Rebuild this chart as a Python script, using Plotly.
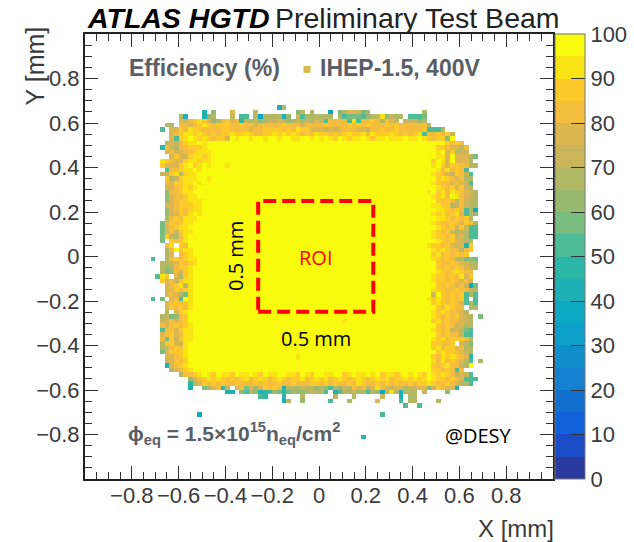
import plotly.graph_objects as go

# Efficiency bands (5 % bins, value = band centre-ish)
band_values = {"a": 98, "b": 93, "c": 88, "d": 83, "e": 78, "f": 73, "g": 68, "h": 63, "i": 58,
               "j": 53, "k": 48, "l": 43, "m": 38}
tick_values = [0, 10, 20, 30, 40, 50, 60, 70, 80, 90, 100]
axis_ticks = [-0.8, -0.6, -0.4, -0.2, 0, 0.2, 0.4, 0.6, 0.8]
axis_labels = ["\u22120.8", "\u22120.6", "\u22120.4", "\u22120.2", "0", "0.2", "0.4", "0.6", "0.8"]
minor_ticks = [-0.95, -0.9, -0.85, -0.75, -0.7, -0.65, -0.55, -0.5, -0.45, -0.35, -0.3, -0.25, -0.15, -0.1, -0.05,
               0.05, 0.1, 0.15, 0.25, 0.3, 0.35, 0.45, 0.5, 0.55, 0.65, 0.7, 0.75, 0.85, 0.9, 0.95]
band_colors = ["#2b3a9f", "#1a4cc8", "#1160dc", "#1470cf", "#1580cf", "#0f8fcb", "#0b9fc9", "#0ca8c4",
               "#1eb0b4", "#2ab7a8", "#4dbb96", "#78bc80", "#98ba6e", "#b2b863", "#cbb55a", "#deb650",
               "#f4bd3d", "#fdc92b", "#f9e315", "#f9fb0e"]

FIRST_COLUMN = 13
FIRST_ROW = 16
WIDTH = 72
# '.' = empty bin, '>' = solid full-efficiency core filled across to the right-hand part
rows = [
"............................lg",
"............l.h...e....f........if.g...m.igeeeih...........g",
".......gl...lhg...f.jj.gmgggglh.fjgggggg.gjiiijhgfbhfgg.jjji",
".......efdcbcehgdcedkfgfhgffefhgfgfgefjddddjbjddcdgdef.fffhg",
"....gg.ddedcbcdcccddcddedddddcdddeddddcddddcdcdcdddcdcddddddg",
"...j.eecdbccddddccddddeddccccdcdbcceeefefedddeefddcddcdddddcjjjg",
".....edcbbcbcdcdccbccbcddccbcbcbcdcdbccdcdcbccbdbcccbcdcdcbjddcdcf",
".....ejcbabcbcdcceabaabaabaabaabbaabababcabcbbabcbbabbbabbabcdccha",
"....gefdcbbaba>aaaacdcd....",
"...kdfgddcccbaa>aaccdeegd...",
"....edfeddcbbb>aabaecgff...",
".....ecefcbbcb>aabbeaeeegi.",
"...bcdeecbbcbb>acabeaeeeg..",
"...ceeecbacbabaaab>abaceccddgg.",
"....jddcbbab>aaabdbdcdj...",
"...ffcbgcbba>abcdefcdfj..",
"....cgfcbbbaab>aacbcdedgg..",
"....deccbbab>abcddedefj..",
"....eedcbcb>aabcdcecfg..",
"....hddcbba>bacbdbcdefg.",
"....heddcbb>abcbdabdefg.",
"....hedccbbb>aacdcdgdfgg.",
"....eedcccbb>abbccgfdfgg.",
"....hedcdcbb>aabbcdcdjgm.",
"....hfecdbab>abcbdcbejgh.",
"....gdcdbbb>aabbcdcdcg..",
"...iecdcbb>abcddcdecdg.",
"...iedcbba>aabcdcfcfjj.",
"...ifdfcbb>abcdcfgfgjj.",
"...icfgdb>abccdcfegjj.",
"...i.cdcb>aabcdcefgg..",
"....db.cd>bccdcefelc..",
"....gdacbb>abcbcddgdc..",
"....ge.dcb>acbdcdcdc...",
".j..gdcdcbb>abcdcdggihi.",
"...ggfecdcb>aacddcdeegg.",
"...ghgdccb>aacdcdcdefg.",
"...gihdfcb>aabcdcbcdd..",
"..jbc.egcb>abccdcdbec..",
"...cedfcbb>abccdcdedf..",
"....edcbgb>aacdcdedfmi.",
"....eecdcb>abccddcddfg.",
"....edegib>afacdcdcjgj.",
".j.i.edjab>abcbcdcdcj.j.",
"....edcdcb>acbcdcdejgj.",
"....ecdcdb>aacdbcdd.gg.",
"....g.ecb>abcbcddeg...",
"...gfihdc>abcdcdcefg.i",
"...fededc>acbdcddefg..",
"...dedcdcb>aacdcdfegg..",
"...jddecbb>abcdcfegij..",
"...edcedbb>aacdcddfjj..",
"...dicfcbb>abcbdcccdg..",
"...gccefb>accddc.egi..",
"...gfdcdb>acbdccedgg..",
"...iecccba>aacbccdefg..",
"....eedcb>acdbcbcdek..",
"....fecdca>abdbdcdegj.g",
"....ledcb>acdcbddfga..",
".....gedcb>accdcdjd....",
".......gddcbabcabbcabbabcabbaabbcabcaabbaacbabbabacbbcbababcabcbcdfefj..",
".........hedcbcbcdcdcbdcbcdcbcdccbdcbcbdcbcdcbcdcbcbdccbcbcbabccdcdejjj.",
".........kgecdcdcddcdddcdcddcddcdddccdcdcddcdbcddcdcdcddcdccbcddcdeggj..",
".........l..igedkf.ediehecdcdlgghfgghghjghfgdedgebdefeegffeeifcdeel.....",
".................ll.hjghlkjhikighhgfggj.ljggfggjghmfbglggg.f....h.......",
"........................jk...k...g......g...g.....f...l.gg..............",
".............................lg..h.....j...g.....e....j.gg....g.........",
".......................................................j..j.............",
"",
"...........m......................................j.....................",
"",
"",
"",
"",
"..............................................k.........................",
]
# Isolated lower-efficiency bins inside the core (mm, mm, %)
spot_x = [0.11, -0.09]
spot_y = [-0.29, -0.45]
spot_v = [93, 93]

x_centers = [round(-0.99 + 0.02 * i, 2) for i in range(100)]
y_centers = [round(0.99 - 0.02 * j, 2) for j in range(100)]
z = [[None] * 100 for _ in range(100)]
for j, row in enumerate(rows):
    if ">" in row:
        left, right = row.split(">")
        row = left + "a" * (WIDTH - len(left) - len(right)) + right
    for c, ch in enumerate(row):
        if ch in band_values:
            z[FIRST_ROW + j][FIRST_COLUMN + c] = band_values[ch]
for sx, sy, sv in zip(spot_x, spot_y, spot_v):
    z[y_centers.index(sy)][x_centers.index(sx)] = sv

scale = []
for k, col in enumerate(band_colors):
    scale += [[k / 20, col], [(k + 1) / 20, col]]

L, R, T, B = 85, 553, 33.5, 479.5
def px(v):
    return (v - L) / (R - L)
def py(v):
    return (B - v) / (B - T)

fig = go.Figure(go.Heatmap(
    x=x_centers, y=y_centers, z=z, zmin=0, zmax=100, colorscale=scale, hoverongaps=False,
    colorbar=dict(x=1.0043, xanchor="left", xpad=0, ypad=0, thickness=30, len=1, y=0, yanchor="bottom",
                  tickvals=tick_values, ticks="inside", ticklen=14, tickwidth=1.3, tickcolor="#333333",
                  outlinecolor="#777777", outlinewidth=1,
                  tickfont=dict(family="Liberation Sans", size=22, color="#3a3a3a")),
))

axis_common = dict(range=[-1, 1], tickmode="array", tickvals=axis_ticks, ticktext=axis_labels,
                   ticks="inside", ticklen=13, tickwidth=1.4, tickcolor="#333333",
                   showline=True, linecolor="#222222", linewidth=2, mirror="allticks", showgrid=False, zeroline=False,
                   tickfont=dict(family="Liberation Sans", size=22, color="#3a3a3a"),
                   minor=dict(tickmode="array", tickvals=minor_ticks, ticks="inside", ticklen=7, tickwidth=1.2,
                              tickcolor="#333333", showgrid=False))
fig.update_xaxes(**axis_common, ticklabelstandoff=-4)
fig.update_yaxes(**axis_common, ticklabelstandoff=-1)

fig.add_shape(type="rect", x0=-0.26, x1=0.232, y0=-0.248, y1=0.25, line=dict(color="#ff0000", width=4, dash="13px,6px"))
fig.add_shape(type="rect", xref="paper", yref="paper", x0=px(303.5), x1=px(310.5), y0=py(72.5), y1=py(65.5),
              fillcolor="#dcb850", line=dict(width=0))

def note(x, y, text, size, color="#000000", family="Liberation Sans", anchor="left", angle=0):
    fig.add_annotation(xref="paper", yref="paper", x=px(x), y=py(y), text=text, showarrow=False, xanchor=anchor,
                       yanchor="middle", textangle=angle, font=dict(family=family, size=size, color=color),
                       xshift=0, yshift=0, borderpad=0)

gray = "#5a5e66"
note(86, 17, "<b><i>ATLAS HGTD</i></b>", 28.5)
note(274, 17, "Preliminary Test Beam", 28.5, color="#222222")
note(128, 68, "<b>Efficiency (%)</b>", 23, color=gray)
note(319, 68, "<b>IHEP-1.5, 400V</b>", 23, color=gray)
note(127, 434, "<b>\u03d5<sub>eq</sub> = 1.5\u00d710<sup>15</sup>n<sub>eq</sub>/cm<sup>2</sup></b>", 21, color=gray)
note(444, 436, "@DESY", 20, family="Open Sans")
note(316, 258, "ROI", 20, color="#ff0000", family="Open Sans", anchor="center")
note(316, 339, "0.5 mm", 20, family="Open Sans", anchor="center")
note(235, 256, "0.5 mm", 20, family="Open Sans", anchor="center", angle=-90)
note(516, 529, "X [mm]", 24, color="#3a3a3a", anchor="center")
note(35, 66, "Y [mm]", 25, color="#3a3a3a", anchor="center", angle=-90)

fig.update_layout(width=634, height=542, autosize=False, paper_bgcolor="white", plot_bgcolor="white",
                  margin=dict(l=L, r=634 - R, t=T, b=542 - B, autoexpand=False), showlegend=False)
fig.write_html("out.html", post_script="document.body.style.margin='0';", config={"displayModeBar": False})
